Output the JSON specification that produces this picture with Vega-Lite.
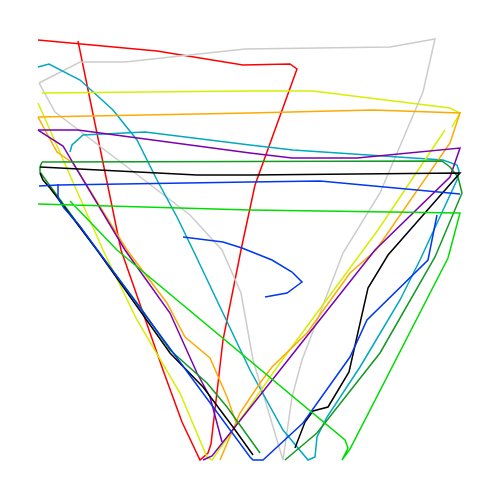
{
  "$schema": "https://vega.github.io/schema/vega-lite/v6.json",
  "width": 424,
  "height": 424,
  "padding": 38,
  "autosize": {"type": "none"},
  "background": "white",
  "config": {"view": {"stroke": null}},
  "data": {
    "values": [
      {"series": "A", "part": 1, "step": 1, "x": 9.43, "y": 99.29},
      {"series": "A", "part": 1, "step": 2, "x": 19.58, "y": 50.0},
      {"series": "A", "part": 1, "step": 3, "x": 29.48, "y": 21.7},
      {"series": "A", "part": 1, "step": 4, "x": 33.96, "y": 9.43},
      {"series": "A", "part": 1, "step": 5, "x": 38.21, "y": 0.47},
      {"series": "A", "part": 1, "step": 6, "x": 40.09, "y": 2.12},
      {"series": "A", "part": 1, "step": 7, "x": 40.8, "y": 4.25},
      {"series": "A", "part": 1, "step": 8, "x": 43.63, "y": 28.77},
      {"series": "A", "part": 1, "step": 9, "x": 47.88, "y": 50.0},
      {"series": "A", "part": 1, "step": 10, "x": 51.18, "y": 65.33},
      {"series": "A", "part": 1, "step": 11, "x": 61.08, "y": 92.69},
      {"series": "A", "part": 1, "step": 12, "x": 59.43, "y": 93.87},
      {"series": "A", "part": 1, "step": 13, "x": 48.35, "y": 93.63},
      {"series": "A", "part": 1, "step": 14, "x": 28.07, "y": 96.93},
      {"series": "A", "part": 1, "step": 15, "x": 0.0, "y": 99.53},

      {"series": "B", "part": 1, "step": 1, "x": 0.24, "y": 89.39},
      {"series": "B", "part": 1, "step": 2, "x": 4.01, "y": 82.55},
      {"series": "B", "part": 1, "step": 3, "x": 35.85, "y": 58.25},
      {"series": "B", "part": 1, "step": 4, "x": 43.4, "y": 50.0},
      {"series": "B", "part": 1, "step": 5, "x": 47.88, "y": 39.86},
      {"series": "B", "part": 1, "step": 6, "x": 50.71, "y": 24.06},
      {"series": "B", "part": 1, "step": 7, "x": 57.78, "y": 0.47},
      {"series": "B", "part": 1, "step": 8, "x": 59.91, "y": 15.33},
      {"series": "B", "part": 1, "step": 9, "x": 62.26, "y": 24.06},
      {"series": "B", "part": 1, "step": 10, "x": 71.93, "y": 49.29},
      {"series": "B", "part": 1, "step": 11, "x": 80.66, "y": 63.44},
      {"series": "B", "part": 1, "step": 12, "x": 90.8, "y": 87.26},
      {"series": "B", "part": 1, "step": 13, "x": 93.63, "y": 99.76},
      {"series": "B", "part": 1, "step": 14, "x": 83.02, "y": 97.88},
      {"series": "B", "part": 1, "step": 15, "x": 48.82, "y": 97.41},
      {"series": "B", "part": 1, "step": 16, "x": 20.52, "y": 94.34},
      {"series": "B", "part": 1, "step": 17, "x": 9.91, "y": 94.34},
      {"series": "B", "part": 1, "step": 18, "x": 0.24, "y": 89.39},

      {"series": "C", "part": 1, "step": 1, "x": 0.0, "y": 93.16},
      {"series": "C", "part": 1, "step": 2, "x": 2.59, "y": 93.87},
      {"series": "C", "part": 1, "step": 3, "x": 9.91, "y": 90.09},
      {"series": "C", "part": 1, "step": 4, "x": 17.69, "y": 83.02},
      {"series": "C", "part": 1, "step": 5, "x": 23.35, "y": 75.94},
      {"series": "C", "part": 1, "step": 6, "x": 28.07, "y": 66.51},
      {"series": "C", "part": 1, "step": 7, "x": 32.78, "y": 57.78},
      {"series": "C", "part": 1, "step": 8, "x": 36.56, "y": 50.0},
      {"series": "C", "part": 1, "step": 9, "x": 50.0, "y": 21.7},
      {"series": "C", "part": 1, "step": 10, "x": 57.78, "y": 7.55},
      {"series": "C", "part": 1, "step": 11, "x": 63.68, "y": 0.47},
      {"series": "C", "part": 1, "step": 12, "x": 65.33, "y": 1.18},
      {"series": "C", "part": 1, "step": 13, "x": 65.8, "y": 5.9},
      {"series": "C", "part": 1, "step": 14, "x": 68.16, "y": 10.61},
      {"series": "C", "part": 1, "step": 15, "x": 75.94, "y": 22.41},
      {"series": "C", "part": 1, "step": 16, "x": 85.38, "y": 38.21},
      {"series": "C", "part": 1, "step": 17, "x": 90.09, "y": 47.64},
      {"series": "C", "part": 1, "step": 18, "x": 98.82, "y": 66.51},
      {"series": "C", "part": 1, "step": 19, "x": 99.29, "y": 68.63},
      {"series": "C", "part": 1, "step": 20, "x": 98.82, "y": 70.05},
      {"series": "C", "part": 1, "step": 21, "x": 95.52, "y": 71.23},
      {"series": "C", "part": 1, "step": 22, "x": 60.14, "y": 73.58},
      {"series": "C", "part": 1, "step": 23, "x": 50.0, "y": 74.76},
      {"series": "C", "part": 1, "step": 24, "x": 25.24, "y": 77.83},
      {"series": "C", "part": 1, "step": 25, "x": 10.61, "y": 77.12},
      {"series": "C", "part": 1, "step": 26, "x": 8.02, "y": 74.76},
      {"series": "C", "part": 1, "step": 27, "x": 7.55, "y": 73.11},

      {"series": "D", "part": 1, "step": 1, "x": 0.0, "y": 84.67},
      {"series": "D", "part": 1, "step": 2, "x": 15.33, "y": 50.0},
      {"series": "D", "part": 1, "step": 3, "x": 23.35, "y": 33.49},
      {"series": "D", "part": 1, "step": 4, "x": 33.49, "y": 16.27},
      {"series": "D", "part": 1, "step": 5, "x": 39.86, "y": 1.18},
      {"series": "D", "part": 1, "step": 6, "x": 41.04, "y": 0.47},
      {"series": "D", "part": 1, "step": 7, "x": 57.08, "y": 23.35},
      {"series": "D", "part": 1, "step": 8, "x": 80.19, "y": 54.72},
      {"series": "D", "part": 1, "step": 9, "x": 95.99, "y": 78.3},
      {"series": "D", "part": 2, "step": 10, "x": 97.64, "y": 79.01},
      {"series": "D", "part": 2, "step": 11, "x": 99.53, "y": 82.31},
      {"series": "D", "part": 2, "step": 12, "x": 97.17, "y": 83.49},
      {"series": "D", "part": 2, "step": 13, "x": 64.86, "y": 87.5},
      {"series": "D", "part": 2, "step": 14, "x": 50.0, "y": 87.5},
      {"series": "D", "part": 2, "step": 15, "x": 0.94, "y": 87.03},

      {"series": "E", "part": 1, "step": 1, "x": 0.0, "y": 81.37},
      {"series": "E", "part": 1, "step": 2, "x": 4.48, "y": 73.11},
      {"series": "E", "part": 1, "step": 3, "x": 8.25, "y": 70.52},
      {"series": "E", "part": 1, "step": 4, "x": 20.99, "y": 50.0},
      {"series": "E", "part": 1, "step": 5, "x": 30.42, "y": 37.5},
      {"series": "E", "part": 1, "step": 6, "x": 34.67, "y": 29.48},
      {"series": "E", "part": 1, "step": 7, "x": 40.57, "y": 24.53},
      {"series": "E", "part": 1, "step": 8, "x": 44.58, "y": 15.33},
      {"series": "E", "part": 1, "step": 9, "x": 46.93, "y": 8.73},
      {"series": "E", "part": 2, "step": 10, "x": 42.92, "y": 0.47},
      {"series": "E", "part": 2, "step": 11, "x": 47.64, "y": 11.56},
      {"series": "E", "part": 2, "step": 12, "x": 52.36, "y": 18.63},
      {"series": "E", "part": 2, "step": 13, "x": 55.19, "y": 22.41},
      {"series": "E", "part": 2, "step": 14, "x": 63.44, "y": 30.42},
      {"series": "E", "part": 2, "step": 15, "x": 73.58, "y": 44.58},
      {"series": "E", "part": 2, "step": 16, "x": 79.72, "y": 50.0},
      {"series": "E", "part": 2, "step": 17, "x": 97.17, "y": 75.24},
      {"series": "E", "part": 2, "step": 18, "x": 99.53, "y": 82.31},
      {"series": "E", "part": 2, "step": 19, "x": 79.01, "y": 83.02},
      {"series": "E", "part": 2, "step": 20, "x": 50.0, "y": 82.31},
      {"series": "E", "part": 2, "step": 21, "x": 0.0, "y": 81.37},

      {"series": "F", "part": 1, "step": 1, "x": 0.0, "y": 78.3},
      {"series": "F", "part": 1, "step": 2, "x": 5.9, "y": 74.53},
      {"series": "F", "part": 1, "step": 3, "x": 8.25, "y": 70.52},
      {"series": "F", "part": 1, "step": 4, "x": 20.52, "y": 50.0},
      {"series": "F", "part": 1, "step": 5, "x": 31.13, "y": 35.14},
      {"series": "F", "part": 1, "step": 6, "x": 37.5, "y": 20.99},
      {"series": "F", "part": 1, "step": 7, "x": 40.57, "y": 15.33},
      {"series": "F", "part": 1, "step": 8, "x": 43.4, "y": 4.72},
      {"series": "F", "part": 2, "step": 9, "x": 38.92, "y": 0.47},
      {"series": "F", "part": 2, "step": 10, "x": 41.04, "y": 1.42},
      {"series": "F", "part": 2, "step": 11, "x": 58.96, "y": 24.06},
      {"series": "F", "part": 2, "step": 12, "x": 79.48, "y": 50.0},
      {"series": "F", "part": 2, "step": 13, "x": 97.17, "y": 67.22},
      {"series": "F", "part": 2, "step": 14, "x": 99.53, "y": 74.06},
      {"series": "F", "part": 2, "step": 15, "x": 75.24, "y": 71.7},
      {"series": "F", "part": 2, "step": 16, "x": 59.91, "y": 71.7},
      {"series": "F", "part": 2, "step": 17, "x": 50.0, "y": 72.88},
      {"series": "F", "part": 2, "step": 18, "x": 9.43, "y": 78.3},
      {"series": "F", "part": 2, "step": 19, "x": 0.0, "y": 78.3},

      {"series": "G", "part": 1, "step": 1, "x": 0.94, "y": 70.75},
      {"series": "G", "part": 1, "step": 2, "x": 0.47, "y": 69.58},
      {"series": "G", "part": 1, "step": 3, "x": 0.47, "y": 68.4},
      {"series": "G", "part": 1, "step": 4, "x": 1.65, "y": 66.75},
      {"series": "G", "part": 1, "step": 5, "x": 13.92, "y": 50.0},
      {"series": "G", "part": 1, "step": 6, "x": 24.06, "y": 36.56},
      {"series": "G", "part": 1, "step": 7, "x": 31.13, "y": 26.42},
      {"series": "G", "part": 1, "step": 8, "x": 39.86, "y": 18.63},
      {"series": "G", "part": 1, "step": 9, "x": 44.58, "y": 12.97},
      {"series": "G", "part": 1, "step": 10, "x": 52.36, "y": 2.12},
      {"series": "G", "part": 2, "step": 11, "x": 58.25, "y": 0.47},
      {"series": "G", "part": 2, "step": 12, "x": 65.8, "y": 6.84},
      {"series": "G", "part": 2, "step": 13, "x": 80.66, "y": 25.71},
      {"series": "G", "part": 2, "step": 14, "x": 93.63, "y": 48.35},
      {"series": "G", "part": 2, "step": 15, "x": 100.0, "y": 63.44},
      {"series": "G", "part": 2, "step": 16, "x": 99.06, "y": 67.22},
      {"series": "G", "part": 2, "step": 17, "x": 97.17, "y": 69.58},
      {"series": "G", "part": 2, "step": 18, "x": 95.28, "y": 70.99},
      {"series": "G", "part": 2, "step": 19, "x": 0.94, "y": 70.75},

      {"series": "H", "part": 1, "step": 1, "x": 0.47, "y": 68.16},
      {"series": "H", "part": 1, "step": 2, "x": 1.18, "y": 66.51},
      {"series": "H", "part": 1, "step": 3, "x": 2.83, "y": 64.62},
      {"series": "H", "part": 1, "step": 4, "x": 13.92, "y": 50.0},
      {"series": "H", "part": 1, "step": 5, "x": 31.13, "y": 25.71},
      {"series": "H", "part": 1, "step": 6, "x": 38.92, "y": 17.69},
      {"series": "H", "part": 1, "step": 7, "x": 45.99, "y": 8.25},
      {"series": "H", "part": 1, "step": 8, "x": 50.71, "y": 1.65},
      {"series": "H", "part": 2, "step": 9, "x": 60.61, "y": 3.3},
      {"series": "H", "part": 2, "step": 10, "x": 62.97, "y": 9.43},
      {"series": "H", "part": 2, "step": 11, "x": 64.86, "y": 12.03},
      {"series": "H", "part": 2, "step": 12, "x": 68.4, "y": 12.97},
      {"series": "H", "part": 2, "step": 13, "x": 73.35, "y": 21.23},
      {"series": "H", "part": 2, "step": 14, "x": 77.83, "y": 41.04},
      {"series": "H", "part": 2, "step": 15, "x": 82.55, "y": 48.82},
      {"series": "H", "part": 2, "step": 16, "x": 99.53, "y": 68.16},
      {"series": "H", "part": 2, "step": 17, "x": 50.0, "y": 67.69},
      {"series": "H", "part": 2, "step": 18, "x": 37.5, "y": 67.69},
      {"series": "H", "part": 2, "step": 19, "x": 0.47, "y": 69.58},

      {"series": "I", "part": 1, "step": 1, "x": 4.72, "y": 65.57},
      {"series": "I", "part": 1, "step": 2, "x": 4.72, "y": 62.26},
      {"series": "I", "part": 1, "step": 3, "x": 6.13, "y": 59.91},
      {"series": "I", "part": 1, "step": 4, "x": 9.67, "y": 55.9},
      {"series": "I", "part": 1, "step": 5, "x": 50.0, "y": 1.18},
      {"series": "I", "part": 1, "step": 6, "x": 50.71, "y": 0.47},
      {"series": "I", "part": 1, "step": 7, "x": 53.07, "y": 0.47},
      {"series": "I", "part": 1, "step": 8, "x": 62.5, "y": 9.2},
      {"series": "I", "part": 1, "step": 9, "x": 73.58, "y": 24.76},
      {"series": "I", "part": 1, "step": 10, "x": 77.59, "y": 33.49},
      {"series": "I", "part": 1, "step": 11, "x": 91.98, "y": 47.64},
      {"series": "I", "part": 1, "step": 12, "x": 92.45, "y": 50.0},
      {"series": "I", "part": 1, "step": 13, "x": 94.1, "y": 58.25},
      {"series": "I", "part": 2, "step": 14, "x": 99.53, "y": 63.21},
      {"series": "I", "part": 2, "step": 15, "x": 66.51, "y": 66.27},
      {"series": "I", "part": 2, "step": 16, "x": 50.0, "y": 66.04},
      {"series": "I", "part": 2, "step": 17, "x": 4.72, "y": 65.33},
      {"series": "I", "part": 2, "step": 18, "x": 0.24, "y": 65.09},
      {"series": "I", "part": 3, "step": 19, "x": 34.2, "y": 53.07},
      {"series": "I", "part": 3, "step": 20, "x": 43.63, "y": 51.89},
      {"series": "I", "part": 3, "step": 21, "x": 48.11, "y": 50.47},
      {"series": "I", "part": 3, "step": 22, "x": 55.19, "y": 47.64},
      {"series": "I", "part": 3, "step": 23, "x": 59.91, "y": 44.81},
      {"series": "I", "part": 3, "step": 24, "x": 62.26, "y": 42.45},
      {"series": "I", "part": 3, "step": 25, "x": 58.73, "y": 39.86},
      {"series": "I", "part": 3, "step": 26, "x": 53.54, "y": 38.92},

      {"series": "J", "part": 1, "step": 1, "x": 7.55, "y": 61.56},
      {"series": "J", "part": 1, "step": 2, "x": 18.63, "y": 50.0},
      {"series": "J", "part": 1, "step": 3, "x": 72.41, "y": 5.19},
      {"series": "J", "part": 1, "step": 4, "x": 73.11, "y": 3.3},
      {"series": "J", "part": 1, "step": 5, "x": 71.7, "y": 0.47},
      {"series": "J", "part": 1, "step": 6, "x": 73.58, "y": 3.07},
      {"series": "J", "part": 1, "step": 7, "x": 96.7, "y": 48.11},
      {"series": "J", "part": 1, "step": 8, "x": 99.53, "y": 58.73},
      {"series": "J", "part": 1, "step": 9, "x": 50.0, "y": 59.43},
      {"series": "J", "part": 1, "step": 10, "x": 0.0, "y": 60.85}
    ]
  },
  "mark": {"type": "line", "strokeWidth": 1.5, "clip": false},
  "encoding": {
    "x": {"field": "x", "type": "quantitative", "scale": {"domain": [0, 100]}, "axis": null},
    "y": {"field": "y", "type": "quantitative", "scale": {"domain": [0, 100]}, "axis": null},
    "color": {
      "field": "series",
      "type": "nominal",
      "scale": {
        "domain": ["A", "B", "C", "D", "E", "F", "G", "H", "I", "J"],
        "range": ["#ff0000", "#cccccc", "#00a8c0", "#d4f000", "#ffaa00", "#7a00b0", "#119a22", "#000000", "#0038f0", "#00dd00"]
      },
      "legend": null
    },
    "detail": {"field": "part", "type": "nominal"},
    "order": {"field": "step", "type": "quantitative"}
  }
}
